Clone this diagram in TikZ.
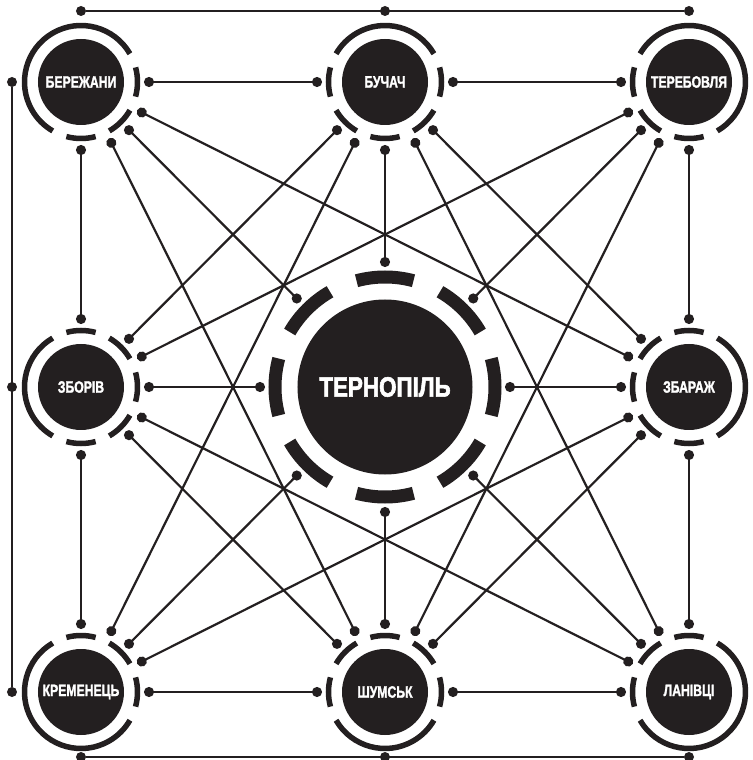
\documentclass[tikz,border=0pt]{standalone}
\usepackage{fontspec}
\newfontfamily\cityfont{Liberation Sans}[FakeStretch=0.74,BoldFeatures={FakeBold=1.5}]
\newfontfamily\hubfont{Liberation Sans}[FakeStretch=0.8,BoldFeatures={FakeBold=2}]
\usepackage{tikz}
\usetikzlibrary{arrows.meta,calc,positioning}
\definecolor{ink}{RGB}{35,31,32}
\tikzset{
  city/.style={circle,fill=ink,minimum size=86pt,inner sep=0pt,outer sep=20pt,
    text=white,font=\cityfont\bfseries\fontsize{16.5}{16.5}\selectfont},
  hub/.style={circle,fill=ink,minimum size=175pt,inner sep=0pt,outer sep=32.5pt,
    text=white,font=\hubfont\bfseries\fontsize{28}{28}\selectfont},
  ringarc/.style={draw=ink,line width=5.5pt},
  hubarc/.style={draw=ink,line width=13pt},
  link/.style={draw=ink,line width=2.2pt,
    {Circle[length=10pt,width=10pt]}-{Circle[length=10pt,width=10pt]}},
  framedot/.style={circle,fill=ink,inner sep=0pt,minimum size=10pt},
  frame/.style={draw=ink,line width=2.2pt}
}
% broken ring round a city: node, radius, start/end angle pairs
\newcommand\cityring[3]{%
  \foreach \s/\e in {#3}
    \draw[ringarc] ([shift={(\s:#2)}]#1.center) arc[start angle=\s,end angle=\e,radius=#2];}

\begin{document}
\begin{tikzpicture}[node distance=305pt and 304pt,on grid]
  \useasboundingbox (-385pt,-373pt) rectangle (367pt,387pt);
  \node[hub] (ter) {ТЕРНОПІЛЬ};
  \node[city,above left=of ter] (ber) {БЕРЕЖАНИ};
  \node[city,above=of ter] (buch) {БУЧАЧ};
  \node[city,above right=of ter] (tereb) {ТЕРЕБОВЛЯ};
  \node[city,left=of ter] (zbor) {ЗБОРІВ};
  \node[city,right=of ter] (zbar) {ЗБАРАЖ};
  \node[city,below left=of ter] (krem) {КРЕМЕНЕЦЬ};
  \node[city,below=of ter] (shum) {ШУМСЬК};
  \node[city,below right=of ter] (lan) {ЛАНІВЦІ};

  \foreach \k in {0,45,...,315}
    \draw[hubarc] ([shift={(\k-15:110pt)}]ter.center) arc[start angle=\k-15,end angle=\k+15,radius=110pt];
  \cityring{ber}{56.5pt}{345/375,30/240,255/285,300/330}
  \cityring{buch}{56.5pt}{30/150,165/195,210/240,255/285,300/330,345/375}
  \cityring{tereb}{56.5pt}{300/510,165/195,210/240,255/285}
  \cityring{zbor}{56.5pt}{120/240,255/285,300/330,345/375,30/60,75/105}
  \cityring{zbar}{56.5pt}{300/420,75/105,120/150,165/195,210/240,255/285}
  \cityring{krem}{56.5pt}{120/330,345/375,30/60,75/105}
  \cityring{shum}{56.5pt}{210/330,345/375,30/60,75/105,120/150,165/195}
  \cityring{lan}{56.5pt}{210/420,75/105,120/150,165/195}

  \foreach \a/\b in {ber/buch,buch/tereb,ber/zbor,zbor/krem,tereb/zbar,zbar/lan,
      krem/shum,shum/lan,ber/zbar,ber/shum,buch/zbor,buch/krem,buch/lan,buch/zbar,
      tereb/zbor,tereb/shum,zbor/lan,zbor/shum,zbar/krem,zbar/shum}
    \draw[link] (\a) -- (\b);
  \foreach \c in {ber,buch,tereb,zbor,zbar,krem,shum,lan}
    \draw[link] (ter) -- (\c);

  \node[framedot,above=71pt of ber] (ft1) {};
  \node[framedot,above=71pt of buch] (ft2) {};
  \node[framedot,above=71pt of tereb] (ft3) {};
  \node[framedot,left=69pt of ber] (fl1) {};
  \node[framedot,left=69pt of zbor] (fl2) {};
  \node[framedot,left=69pt of krem] (fl3) {};
  \node[framedot,below=65pt of krem] (fb1) {};
  \node[framedot,below=65pt of shum] (fb2) {};
  \node[framedot,below=65pt of lan] (fb3) {};
  \draw[frame] (ft1) -- (ft3);
  \draw[frame] (fl1) -- (fl3);
  \draw[frame] (fb1) -- (fb3);
\end{tikzpicture}
\end{document}
